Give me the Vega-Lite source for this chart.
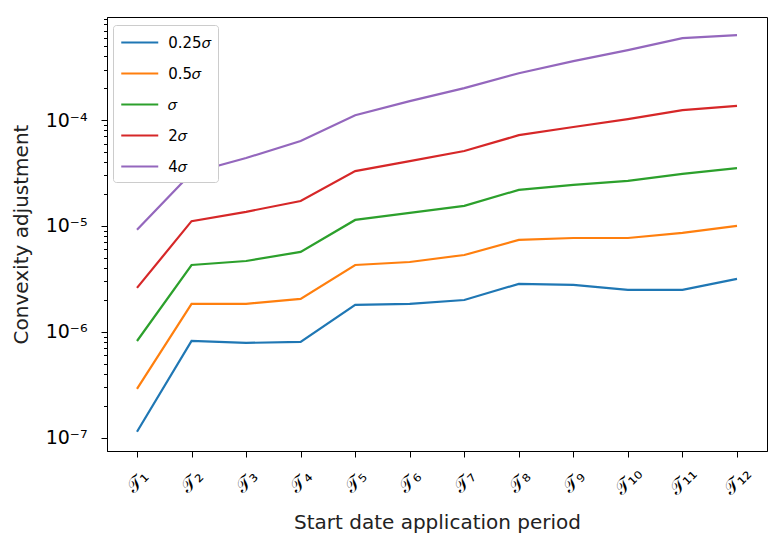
{
  "$schema": "https://vega.github.io/schema/vega-lite/v6.json",
  "width": 660,
  "height": 434,
  "autosize": {"type": "none"},
  "padding": {"left": 107, "top": 17, "right": 2, "bottom": 85},
  "background": "white",
  "config": {
    "view": {"stroke": "black", "strokeWidth": 1},
    "font": "DejaVu Sans",
    "axis": {"domainColor": "black", "tickColor": "black", "labelColor": "black", "titleColor": "#222222", "grid": false, "titleFontWeight": "normal", "labelFont": "DejaVu Sans", "titleFont": "DejaVu Sans"}
  },
  "data": {"values": [
    {"t":"T1","s":"0.25σ","v":1.14e-7},{"t":"T2","s":"0.25σ","v":8.2e-7},{"t":"T3","s":"0.25σ","v":7.87e-7},{"t":"T4","s":"0.25σ","v":8.05e-7},{"t":"T5","s":"0.25σ","v":1.8e-6},{"t":"T6","s":"0.25σ","v":1.84e-6},{"t":"T7","s":"0.25σ","v":2.0e-6},{"t":"T8","s":"0.25σ","v":2.84e-6},{"t":"T9","s":"0.25σ","v":2.78e-6},{"t":"T10","s":"0.25σ","v":2.49e-6},{"t":"T11","s":"0.25σ","v":2.49e-6},{"t":"T12","s":"0.25σ","v":3.16e-6},
    {"t":"T1","s":"0.5σ","v":2.9e-7},{"t":"T2","s":"0.5σ","v":1.84e-6},{"t":"T3","s":"0.5σ","v":1.84e-6},{"t":"T4","s":"0.5σ","v":2.05e-6},{"t":"T5","s":"0.5σ","v":4.28e-6},{"t":"T6","s":"0.5σ","v":4.57e-6},{"t":"T7","s":"0.5σ","v":5.32e-6},{"t":"T8","s":"0.5σ","v":7.38e-6},{"t":"T9","s":"0.5σ","v":7.7e-6},{"t":"T10","s":"0.5σ","v":7.7e-6},{"t":"T11","s":"0.5σ","v":8.6e-6},{"t":"T12","s":"0.5σ","v":1.0e-5},
    {"t":"T1","s":"σ","v":8.2e-7},{"t":"T2","s":"σ","v":4.28e-6},{"t":"T3","s":"σ","v":4.67e-6},{"t":"T4","s":"σ","v":5.69e-6},{"t":"T5","s":"σ","v":1.14e-5},{"t":"T6","s":"σ","v":1.33e-5},{"t":"T7","s":"σ","v":1.55e-5},{"t":"T8","s":"σ","v":2.19e-5},{"t":"T9","s":"σ","v":2.44e-5},{"t":"T10","s":"σ","v":2.66e-5},{"t":"T11","s":"σ","v":3.1e-5},{"t":"T12","s":"σ","v":3.52e-5},
    {"t":"T1","s":"2σ","v":2.6e-6},{"t":"T2","s":"2σ","v":1.11e-5},{"t":"T3","s":"2σ","v":1.36e-5},{"t":"T4","s":"2σ","v":1.72e-5},{"t":"T5","s":"2σ","v":3.3e-5},{"t":"T6","s":"2σ","v":4.1e-5},{"t":"T7","s":"2σ","v":5.1e-5},{"t":"T8","s":"2σ","v":7.2e-5},{"t":"T9","s":"2σ","v":8.6e-5},{"t":"T10","s":"2σ","v":1.02e-4},{"t":"T11","s":"2σ","v":1.24e-4},{"t":"T12","s":"2σ","v":1.36e-4},
    {"t":"T1","s":"4σ","v":9.2e-6},{"t":"T2","s":"4σ","v":3.16e-5},{"t":"T3","s":"4σ","v":4.38e-5},{"t":"T4","s":"4σ","v":6.34e-5},{"t":"T5","s":"4σ","v":1.11e-4},{"t":"T6","s":"4σ","v":1.51e-4},{"t":"T7","s":"4σ","v":2.0e-4},{"t":"T8","s":"4σ","v":2.77e-4},{"t":"T9","s":"4σ","v":3.6e-4},{"t":"T10","s":"4σ","v":4.57e-4},{"t":"T11","s":"4σ","v":5.94e-4},{"t":"T12","s":"4σ","v":6.34e-4}
  ]},
  "layer": [
    {
      "mark": {"type": "line", "strokeWidth": 2.2},
      "encoding": {
        "x": {
          "field": "t", "type": "ordinal", "sort": null,
          "scale": {"type": "point", "padding": 0.55},
          "axis": {
            "title": "Start date application period", "titleFontSize": 20, "titlePadding": 14,
            "labelExpr": "'𝒯' + ['₁','₂','₃','₄','₅','₆','₇','₈','₉','₁₀','₁₁','₁₂'][toNumber(substring(datum.value,1))-1]",
            "labelAngle": -45, "labelAlign": "center", "labelBaseline": "middle", "labelPadding": 24, "labelFontSize": 19,
            "tickSize": 6
          }
        },
        "y": {
          "field": "v", "type": "quantitative",
          "scale": {"type": "log", "domain": [7.5e-8, 9.4e-4], "nice": false},
          "axis": {
            "title": "Convexity adjustment", "titleFontSize": 20, "titlePadding": 14,
            "values": [1e-7, 1e-6, 1e-5, 1e-4],
            "labelExpr": "'10⁻' + ['','','','','⁴','⁵','⁶','⁷'][round(-log(datum.value)/LN10)]",
            "labelFontSize": 19, "tickSize": 6, "labelPadding": 14
          }
        },
        "color": {
          "field": "s", "type": "nominal",
          "scale": {"domain": ["0.25σ","0.5σ","σ","2σ","4σ"], "range": ["#1f77b4","#ff7f0e","#2ca02c","#d62728","#9467bd"]},
          "legend": {
            "title": null, "orient": "none", "legendX": 6, "legendY": 8,
            "symbolType": "M-2,0H2", "symbolSize": 342, "symbolStrokeWidth": 2.2, "symbolOffset": 9.25,
            "rowPadding": 12, "labelFontSize": 15, "labelOffset": 18,
            "labelExpr": "replace(datum.label, 'σ', '𝜎')",
            "fillColor": "white", "strokeColor": "#cccccc", "cornerRadius": 3, "padding": 7
          }
        }
      }
    },
    {
      "mark": {"type": "line", "strokeOpacity": 0},
      "encoding": {
        "x": {"field": "t", "type": "ordinal", "sort": null},
        "y": {
          "field": "v", "type": "quantitative",
          "axis": {
            "orient": "left", "title": null, "labels": false, "domain": false, "tickSize": 3.5,
            "values": [2e-7,3e-7,4e-7,5e-7,6e-7,7e-7,8e-7,9e-7,2e-6,3e-6,4e-6,5e-6,6e-6,7e-6,8e-6,9e-6,2e-5,3e-5,4e-5,5e-5,6e-5,7e-5,8e-5,9e-5,2e-4,3e-4,4e-4,5e-4,6e-4,7e-4,8e-4,9e-4]
          }
        },
        "detail": {"field": "s"}
      }
    }
  ],
  "resolve": {"axis": {"y": "independent"}}
}
